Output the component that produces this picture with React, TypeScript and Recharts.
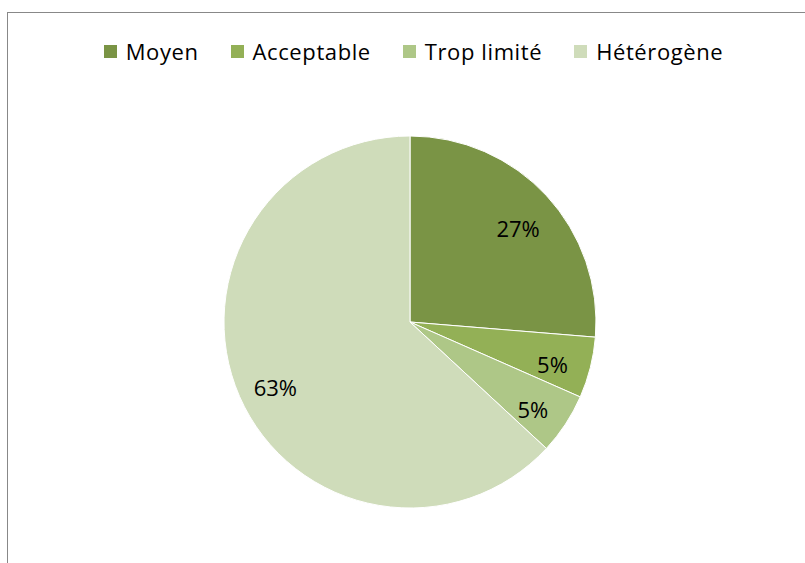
import { PieChart, Pie, Cell } from "recharts";

const CATEGORIES = ["Moyen", "Acceptable", "Trop limité", "Hétérogène"];
const SHARES = [26.3, 5.3, 5.3, 63.1];
const LABELS = ["27%", "5%", "5%", "63%"];
const COLORS = ["#7A9445", "#93B056", "#AEC787", "#CFDCBA"];

const FONT = '"Open Sans", "Noto Sans", sans-serif';
const RAD = Math.PI / 180;

const data = CATEGORIES.map((name, i) => ({ name, value: SHARES[i], label: LABELS[i] }));

function renderLabel(props: any) {
  const { cx, cy, midAngle, outerRadius, index } = props;
  const r = outerRadius * 0.79;
  const x = cx + r * Math.cos(-midAngle * RAD);
  const y = cy + r * Math.sin(-midAngle * RAD) + 6;
  return (
    <text
      x={x}
      y={y}
      fill="#000"
      textAnchor="middle"
      dominantBaseline="central"
      fontSize={22}
      fontFamily={FONT}
    >
      {LABELS[index]}
    </text>
  );
}

function LegendBox() {
  return (
    <div
      style={{
        position: "absolute",
        top: 39,
        left: 11,
        width: 805,
        display: "flex",
        justifyContent: "center",
        alignItems: "center",
        fontFamily: FONT,
        fontSize: 22,
        lineHeight: "24px",
        letterSpacing: 0.6,
        color: "#000",
      }}
    >
      {CATEGORIES.map((name, i) => (
        <div key={name} style={{ display: "flex", alignItems: "center", marginLeft: i === 0 ? 0 : 32 }}>
          <span style={{ width: 13, height: 13, background: COLORS[i], marginRight: 9, display: "inline-block" }} />
          <span>{name}</span>
        </div>
      ))}
    </div>
  );
}

export default function App() {
  return (
    <div style={{ position: "fixed", inset: 0, overflow: "hidden", background: "#fff" }}>
      <div
        style={{
          position: "absolute",
          left: 7,
          top: 12,
          width: 830,
          height: 600,
          border: "1px solid #888",
          boxSizing: "border-box",
        }}
      />
      <LegendBox />
      <div style={{ position: "absolute", left: 0, top: 0 }}>
        <PieChart width={805} height={563} margin={{ top: 0, right: 0, bottom: 0, left: 0 }}>
          <Pie
            data={data}
            dataKey="value"
            nameKey="name"
            cx={410}
            cy={322}
            outerRadius={186}
            startAngle={90}
            endAngle={-270}
            stroke="#fff"
            strokeWidth={1}
            label={renderLabel}
            labelLine={false}
            isAnimationActive={false}
          >
            {data.map((d, i) => (
              <Cell key={d.name} fill={COLORS[i]} />
            ))}
          </Pie>
        </PieChart>
      </div>
    </div>
  );
}
